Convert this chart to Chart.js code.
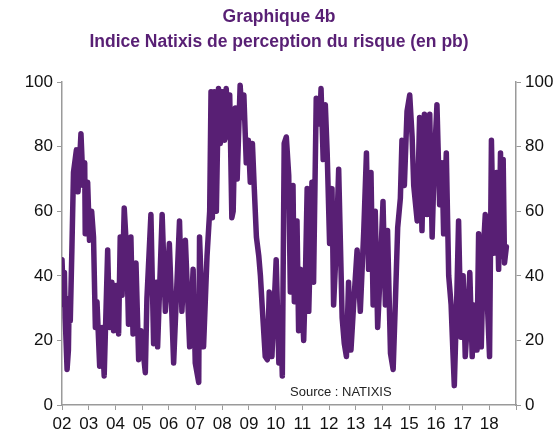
<!DOCTYPE html>
<html>
<head>
<meta charset="utf-8">
<script src="https://cdn.jsdelivr.net/npm/chart.js@4"></script>
<style>
  html, body { margin: 0; padding: 0; background: #fff; }
  #wrap { width: 558px; height: 432px; }
</style>
</head>
<body>
<div id="wrap"><canvas id="riskChart" width="558" height="432"></canvas></div>
<script>
// --- DATA ---
const titleLines = ['Graphique 4b', 'Indice Natixis de perception du risque (en pb)'];
const sourceText = 'Source : NATIXIS';
const yTicks = [0, 20, 40, 60, 80, 100];
const yearLabels = ['02', '03', '04', '05', '06', '07', '08', '09', '10', '11', '12', '13', '14', '15', '16', '17', '18'];

// decimal years (10 per row, same layout as riskIndex)
const dates = [
  2002.00, 2002.06, 2002.09, 2002.12, 2002.19, 2002.24, 2002.27, 2002.31, 2002.37, 2002.43,
  2002.54, 2002.60, 2002.71, 2002.79, 2002.85, 2002.87, 2002.96, 2003.03, 2003.11, 2003.18,
  2003.25, 2003.31, 2003.41, 2003.50, 2003.58, 2003.71, 2003.78, 2003.87, 2003.93, 2004.03,
  2004.12, 2004.18, 2004.25, 2004.33, 2004.43, 2004.49, 2004.58, 2004.66, 2004.77, 2004.87,
  2004.96, 2005.12, 2005.18, 2005.33, 2005.43, 2005.53, 2005.58, 2005.75, 2005.87, 2006.02,
  2006.18, 2006.40, 2006.49, 2006.62, 2006.78, 2006.91, 2006.99, 2007.12, 2007.15, 2007.30,
  2007.43, 2007.53, 2007.58, 2007.63, 2007.70, 2007.78, 2007.86, 2007.93, 2008.01, 2008.09,
  2008.15, 2008.23, 2008.28, 2008.36, 2008.41, 2008.49, 2008.56, 2008.67, 2008.75, 2008.81,
  2008.90, 2008.98, 2009.05, 2009.13, 2009.20, 2009.28, 2009.37, 2009.43, 2009.50, 2009.61,
  2009.69, 2009.76, 2009.86, 2009.95, 2010.02, 2010.12, 2010.18, 2010.25, 2010.32, 2010.40,
  2010.49, 2010.55, 2010.65, 2010.70, 2010.80, 2010.86, 2010.93, 2011.05, 2011.11, 2011.18,
  2011.24, 2011.36, 2011.42, 2011.52, 2011.65, 2011.70, 2011.78, 2011.86, 2011.93, 2012.02,
  2012.11, 2012.17, 2012.27, 2012.36, 2012.49, 2012.57, 2012.65, 2012.73, 2012.82, 2012.92,
  2013.05, 2013.17, 2013.30, 2013.40, 2013.48, 2013.57, 2013.65, 2013.73, 2013.82, 2013.92,
  2014.02, 2014.11, 2014.19, 2014.30, 2014.40, 2014.48, 2014.57, 2014.67, 2014.73, 2014.82,
  2014.92, 2015.02, 2015.11, 2015.17, 2015.30, 2015.39, 2015.48, 2015.57, 2015.67, 2015.77,
  2015.86, 2015.94, 2016.04, 2016.14, 2016.23, 2016.29, 2016.39, 2016.48, 2016.57, 2016.64,
  2016.69, 2016.77, 2016.85, 2016.94, 2017.02, 2017.10, 2017.19, 2017.27, 2017.36, 2017.42,
  2017.54, 2017.60, 2017.70, 2017.79, 2017.85, 2017.94, 2018.01, 2018.08, 2018.16, 2018.27,
  2018.35, 2018.42, 2018.48, 2018.52, 2018.57, 2018.64
];

const riskIndex = [
  45, 31, 41, 27, 11, 17, 33, 26, 48, 72,
  79, 66, 84, 68, 75, 53, 69, 51, 60, 52,
  24, 32, 12, 24, 9, 48, 24, 38, 23, 37,
  22, 52, 34, 61, 46, 25, 52, 22, 44, 14,
  23, 10, 33, 59, 19, 38, 18, 59, 29, 50,
  13, 57, 29, 51, 18, 42, 13, 7, 52, 18,
  46, 60, 97, 58, 97, 60, 98, 81, 97, 82,
  98, 83, 96, 58, 60, 92, 70, 99, 89, 96,
  75, 82, 69, 81, 67, 52, 46, 40, 30, 15,
  14, 35, 15, 32, 45, 13, 30, 9, 81, 83,
  71, 35, 68, 32, 57, 23, 42, 20, 38, 67,
  29, 69, 38, 95, 87, 98, 76, 93, 78, 50,
  67, 31, 49, 73, 27, 19, 15, 38, 17, 31,
  48, 29, 54, 78, 42, 72, 31, 60, 24, 42,
  63, 31, 54, 16, 11, 31, 55, 64, 82, 68,
  91, 96, 83, 68, 57, 89, 54, 90, 59, 90,
  52, 75, 93, 62, 75, 53, 78, 40, 31, 16,
  6, 29, 57, 21, 40, 15, 27, 41, 15, 31,
  17, 53, 18, 50, 59, 29, 15, 82, 47, 72,
  42, 78, 46, 76, 44, 49
];

const purple = '#581f74';
const axisGrey = '#9a9a9a';
const baseFont = "'Liberation Sans', Arial, sans-serif";

const points = dates.map((d, i) => ({ x: d, y: riskIndex[i] }));

// source note inside the plot
const sourceNote = {
  id: 'sourceNote',
  afterDraw(chart) {
    const { ctx, chartArea } = chart;
    ctx.save();
    ctx.font = '13px ' + baseFont;
    ctx.fillStyle = '#222';
    ctx.textAlign = 'left';
    ctx.textBaseline = 'middle';
    ctx.fillText(sourceText, chartArea.left + 228, chartArea.bottom - 13);
    ctx.restore();
  }
};

const yScale = (pos, w) => ({
  position: pos,
  min: 0,
  max: 100,
  afterBuildTicks: s => { s.ticks = yTicks.map(v => ({ value: v })); },
  afterFit: s => { s.width = w; },
  grid: { drawOnChartArea: false, tickLength: 5, color: axisGrey },
  border: { color: axisGrey, width: 1.5 },
  ticks: { color: '#111', padding: 4, font: { family: baseFont, size: 17 } }
});

new Chart(document.getElementById('riskChart').getContext('2d'), {
  type: 'line',
  data: {
    datasets: [{
      data: points,
      borderColor: purple,
      borderWidth: 5.5,
      pointRadius: 0,
      tension: 0,
      borderJoinStyle: 'round',
      borderCapStyle: 'round',
      yAxisID: 'y'
    }]
  },
  options: {
    responsive: false,
    animation: false,
    layout: { padding: { left: 0, right: 0, top: 0, bottom: 0 } },
    plugins: {
      legend: { display: false },
      tooltip: { enabled: false },
      title: {
        display: true,
        text: titleLines,
        color: purple,
        font: { family: baseFont, size: 17.5, weight: 'bold', lineHeight: 1.43 },
        padding: { top: 5, bottom: 27 }
      }
    },
    scales: {
      x: {
        type: 'linear',
        min: 2002,
        max: 2019,
        afterBuildTicks: s => {
          s.ticks = yearLabels.map((l, i) => ({ value: 2002 + i })).concat([{ value: 2019 }]);
        },
        afterFit: s => { s.height = 27; },
        grid: { drawOnChartArea: false, tickLength: 5, color: axisGrey },
        border: { color: axisGrey, width: 1.5 },
        ticks: {
          color: '#111',
          padding: 4,
          maxRotation: 0,
          autoSkip: false,
          font: { family: baseFont, size: 17 },
          callback: v => yearLabels[v - 2002] || ''
        }
      },
      y: yScale('left', 62),
      y2: yScale('right', 42)
    }
  },
  plugins: [sourceNote]
});
</script>
</body>
</html>
